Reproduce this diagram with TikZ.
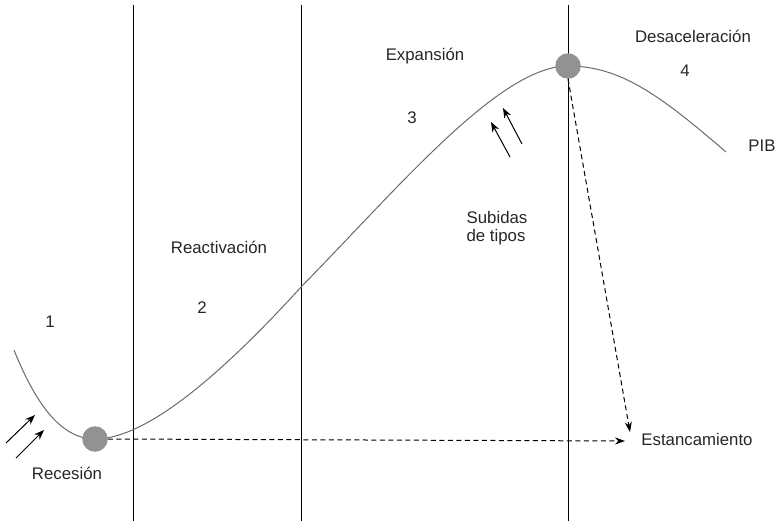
\documentclass[tikz,border=0pt]{standalone}
\usepackage{fontspec}
\setmainfont{Liberation Sans}
\usetikzlibrary{arrows.meta}
\definecolor{curvegray}{HTML}{6A6A6A}
\definecolor{dotgray}{HTML}{929292}
\tikzset{
  lbl/.style={font=\fontsize{16.8}{19}\selectfont, inner sep=0pt, text=black!85},
  divider/.style={draw=black, line width=0.9pt},
  pib/.style={draw=curvegray, line width=1pt},
  dot/.style={circle, fill=dotgray, minimum size=25.5pt, inner sep=0pt},
  push/.style={draw=black, line width=1pt, -{Stealth[length=10pt,width=7.5pt]}},
  trend/.style={draw=black, line width=1pt, dash pattern=on 5pt off 3.5pt, -{Stealth[length=10pt,width=7pt]}}
}
\begin{document}
\begin{tikzpicture}[x=1pt,y=-1pt]
\useasboundingbox (0,0) rectangle (777,527);
% dividers
\coordinate (d1t) at (133,5); \coordinate (d1b) at (133,521);
\coordinate (d2t) at (301,5); \coordinate (d2b) at (301,521);
\coordinate (d3t) at (568,5); \coordinate (d3b) at (568,521);
\draw[divider] (d1t) -- (d1b);
\draw[divider] (d2t) -- (d2b);
\draw[divider] (d3t) -- (d3b);
% curve
\coordinate (c0) at (14,350);
\coordinate (ctr) at (95,439);
\coordinate (cinf) at (302,286);
\coordinate (cpk) at (568,66);
\coordinate (cend) at (726,152);
\draw[pib] (c0) .. controls (35,402) and (60,439) .. (ctr)
  .. controls (150,439) and (230,365) .. (cinf)
  .. controls (400,186) and (500,66) .. (cpk)
  .. controls (620,66) and (660,95) .. (cend);
% dots
\node[dot] (trough) at (95,439) {};
\node[dot] (peak) at (568,66) {};
% dashed trends
\coordinate (hend) at (625,441);
\coordinate (vend) at (630,432);
\draw[trend] (trough.east) -- (hend);
\draw[trend] (peak.south) -- (vend);
% push arrows
\coordinate (a1s) at (6,443); \coordinate (a1e) at (35,415);
\coordinate (a2s) at (16,458); \coordinate (a2e) at (44,430);
\coordinate (b1s) at (522,144); \coordinate (b1e) at (503,108);
\coordinate (b2s) at (510,157); \coordinate (b2e) at (491,122);
\draw[push] (a1s) -- (a1e);
\draw[push] (a2s) -- (a2e);
\draw[push] (b1s) -- (b1e);
\draw[push] (b2s) -- (b2e);
% labels
\node[lbl] (rec) at (67,473) {Recesión};
\node[lbl] (n1) at (50,322) {1};
\node[lbl] (n2) at (202,308) {2};
\node[lbl] (react) at (219,247) {Reactivación};
\node[lbl] (n3) at (412,118) {3};
\node[lbl] (exp) at (425,56) {Expansión};
\node[lbl, align=left] (sub) at (497,228) {Subidas\\[-1pt]de tipos};
\node[lbl] (desac) at (693,36) {Desaceleración};
\node[lbl] (n4) at (685,71) {4};
\node[lbl] (pibl) at (762,146) {PIB};
\node[lbl] (estan) at (697,439) {Estancamiento};
\end{tikzpicture}
\end{document}
